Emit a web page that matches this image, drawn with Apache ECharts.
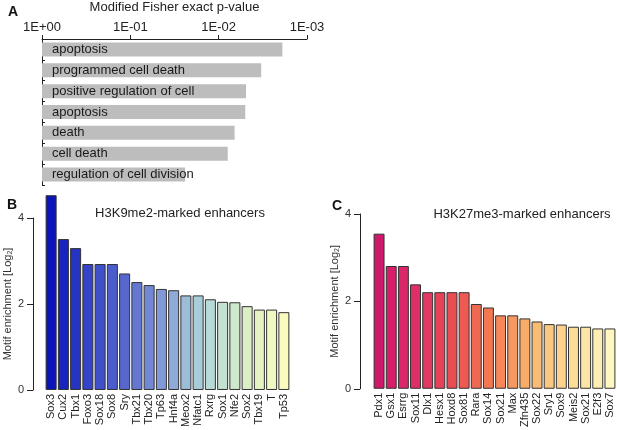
<!DOCTYPE html>
<html>
<head>
<meta charset="utf-8">
<script src="https://cdn.jsdelivr.net/npm/echarts@6/dist/echarts.min.js"></script>
<style>
  html, body { margin: 0; padding: 0; background: #fff; }
  #main { width: 617px; height: 430px; }
</style>
</head>
<body>
<div id="main"></div>
<script>
// Panel A: GO terms and p-values
const goTerms = ['apoptosis', 'programmed cell death', 'positive regulation of cell',
  'apoptosis', 'death', 'cell death', 'regulation of cell division'];
const goPValues = [1.9e-3, 3.3e-3, 4.9e-3, 5.0e-3, 6.6e-3, 7.9e-3, 2.4e-2];
const pTicks = ['1E+00', '1E-01', '1E-02', '1E-03'];

// Panel B: H3K9me2-marked enhancers
const k9Motifs = ['Sox3', 'Cux2', 'Tbx1', 'Foxo3', 'Sox18', 'Sox8', 'Sry', 'Tbx21', 'Tbx20', 'Tp63',
  'Hnf4a', 'Meox2', 'Nfatc1', 'Rxrg', 'Sox1', 'Nfe2', 'Sox2', 'Tbx19', 'T', 'Tp53'];
const k9Values = [4.53, 3.51, 3.30, 2.93, 2.93, 2.93, 2.71, 2.51, 2.44, 2.35,
  2.32, 2.20, 2.20, 2.11, 2.05, 2.04, 1.95, 1.87, 1.87, 1.81];

// Panel C: H3K27me3-marked enhancers
const k27Motifs = ['Pdx1', 'Gsx1', 'Esrrg', 'Sox11', 'Dlx1', 'Hesx1', 'Hoxd8', 'Sox81', 'Rara', 'Sox14',
  'Sox21', 'Max', 'Zfn435', 'Sox22', 'Sry1', 'Sox9', 'Meis2', 'Sox21', 'E2f3', 'Sox7'];
const k27Values = [3.55, 2.81, 2.81, 2.39, 2.21, 2.21, 2.21, 2.21, 1.94, 1.86,
  1.68, 1.68, 1.61, 1.54, 1.48, 1.47, 1.42, 1.42, 1.38, 1.38];

const blueStops = ['#0a14b8', '#3646c8', '#5a6ccf', '#88a2d8', '#b2d8d8', '#d8eec6', '#fafcbe'];
const redStops = ['#d0186a', '#e03068', '#ea5050', '#f47e54', '#f8b870', '#fcdc96', '#fff6c0'];

function hex(c) { return [1, 3, 5].map(i => parseInt(c.slice(i, i + 2), 16)); }
function ramp(stops, n) {
  const out = [];
  for (let i = 0; i < n; i++) {
    const t = i / (n - 1) * (stops.length - 1);
    const k = Math.min(Math.floor(t), stops.length - 2);
    const f = t - k;
    const a = hex(stops[k]), b = hex(stops[k + 1]);
    out.push('rgb(' + a.map((v, j) => Math.round(v + (b[j] - v) * f)).join(',') + ')');
  }
  return out;
}

const FONT = 'Liberation Sans, Arial, sans-serif';
const chart = echarts.init(document.getElementById('main'));

function yEnrich(gridIndex, offset) {
  return {
    type: 'value', gridIndex: gridIndex, min: 0, max: 4, interval: 2, offset: offset,
    axisLine: { show: true, lineStyle: { color: '#222', width: 1 } },
    axisTick: { show: true, length: 6, lineStyle: { color: '#222' } },
    axisLabel: { color: '#333', fontSize: 11, fontFamily: FONT, margin: 9 },
    splitLine: { show: false },
    name: '{a|Motif enrichment [Log}{s|2}{a|]}',
    nameLocation: 'middle', nameGap: 12, nameRotate: 90,
    nameTextStyle: {
      rich: {
        a: { fontSize: 11, color: '#333', fontFamily: FONT },
        s: { fontSize: 7, color: '#333', fontFamily: FONT, verticalAlign: 'bottom', padding: [6, 0, 0, 0] }
      }
    }
  };
}
function xMotif(gridIndex, data) {
  return {
    type: 'category', gridIndex: gridIndex, data: data,
    axisLine: { show: false }, axisTick: { show: false },
    axisLabel: { interval: 0, rotate: 90, fontSize: 11, color: '#222', fontFamily: FONT, margin: 4 }
  };
}
function barData(values, colors) {
  return values.map((v, i) => ({ value: v, itemStyle: { color: colors[i] } }));
}

chart.setOption({
  animation: false,
  backgroundColor: '#fff',
  textStyle: { fontFamily: FONT },
  title: [
    { text: 'A', left: 3, top: 0, textStyle: { fontSize: 14, fontWeight: 'bold', color: '#111', fontFamily: FONT } },
    { text: 'B', left: 2, top: 193, textStyle: { fontSize: 14, fontWeight: 'bold', color: '#111', fontFamily: FONT } },
    { text: 'C', left: 327, top: 194, textStyle: { fontSize: 14, fontWeight: 'bold', color: '#111', fontFamily: FONT } },
    { text: 'H3K9me2-marked enhancers', left: 175, top: 202, textAlign: 'center',
      textStyle: { fontSize: 13, fontWeight: 'normal', color: '#222', fontFamily: FONT } },
    { text: 'H3K27me3-marked enhancers', left: 517, top: 203, textAlign: 'center',
      textStyle: { fontSize: 13, fontWeight: 'normal', color: '#222', fontFamily: FONT } }
  ],
  grid: [
    { left: 42, top: 32, width: 265, height: 153 },
    { left: 45, top: 218, width: 245, bottom: 34 },
    { left: 373, top: 214, width: 243, bottom: 39 }
  ],
  xAxis: [
    {
      type: 'value', gridIndex: 0, position: 'top', min: 0, max: 3, interval: 1,
      axisLine: { show: true, lineStyle: { color: '#222' } },
      axisTick: { show: true, length: 4, lineStyle: { color: '#222' } },
      axisLabel: { color: '#222', fontSize: 13, fontFamily: FONT, margin: 5, formatter: v => pTicks[v] },
      splitLine: { show: false },
      name: 'Modified Fisher exact p-value', nameLocation: 'middle', nameGap: 25,
      nameTextStyle: { fontSize: 13, color: '#222', fontFamily: FONT }
    },
    xMotif(1, k9Motifs),
    xMotif(2, k27Motifs)
  ],
  yAxis: [
    {
      type: 'category', gridIndex: 0, data: goTerms, inverse: true,
      axisLine: { show: true, lineStyle: { color: '#222' } },
      axisTick: { show: true, inside: true, length: 3, lineStyle: { color: '#222' } },
      axisLabel: { show: false }
    },
    yEnrich(1, 12),
    yEnrich(2, 13)
  ],
  series: [
    {
      type: 'bar', xAxisIndex: 0, yAxisIndex: 0,
      data: goPValues.map(p => -Math.log10(p)),
      barWidth: 14,
      itemStyle: { color: '#bdbdbd' },
      label: { show: true, position: 'insideLeft', distance: 10, formatter: '{b}',
        fontSize: 13, color: '#1a1a1a', fontFamily: FONT }
    },
    {
      type: 'bar', xAxisIndex: 1, yAxisIndex: 1, clip: false,
      data: barData(k9Values, ramp(blueStops, k9Values.length)),
      barCategoryGap: '10%',
      itemStyle: { borderColor: '#333', borderWidth: 1 }
    },
    {
      type: 'bar', xAxisIndex: 2, yAxisIndex: 2, clip: false,
      data: barData(k27Values, ramp(redStops, k27Values.length)),
      barCategoryGap: '10%',
      itemStyle: { borderColor: '#333', borderWidth: 1 }
    }
  ]
});
</script>
</body>
</html>
